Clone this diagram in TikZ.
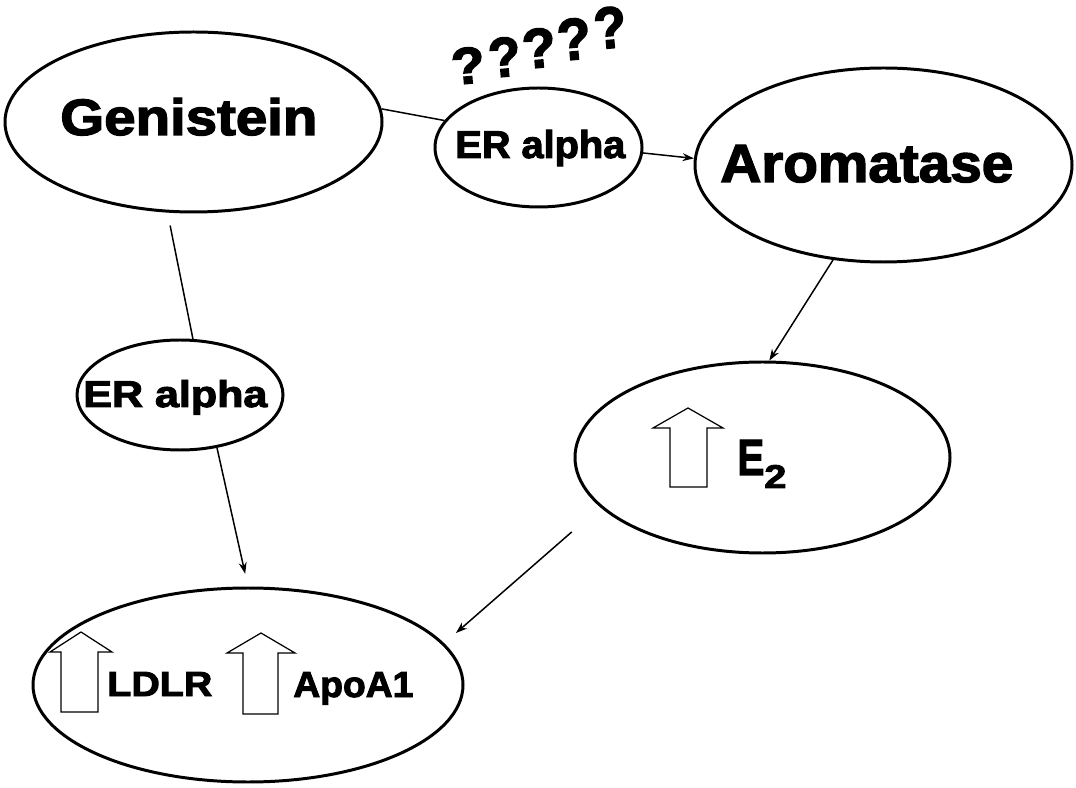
\documentclass[tikz,border=0pt]{standalone}
\usepackage{fontspec}
\setmainfont{Liberation Sans}
\newfontfamily\heavyfont{Liberation Sans}[BoldFeatures={FakeBold=2.6}]
\usepackage{graphicx}
\usetikzlibrary{shapes.geometric,arrows.meta}
% drawing unit: one grid step
\newlength\pxu
\setlength\pxu{0.56906pt}
% bold label squeezed into a given width and cap height
\newcommand\fitlabel[3]{\resizebox{#1\pxu}{#2\pxu}{\heavyfont\bfseries #3}}
% a question mark with its side bearings trimmed
\newcommand\tightq{\kern-0.07em?\kern-0.07em}
\tikzset{
  blob/.style={draw=black, line width=1.7pt, ellipse, inner sep=0pt},
  lbl/.style={inner sep=0pt, anchor=base west},
  qmark/.style={inner sep=0pt, rotate=5},
  link/.style={draw=black, line width=0.85pt},
  goes/.style={link, -{Stealth[length=6.5pt,width=4.5pt]}},
  upblock/.style={draw=black, line width=0.7pt, line join=miter}
}
\begin{document}
\begin{tikzpicture}[x=\pxu, y=-\pxu]
\fill[white] (0,0) rectangle (1076,788);
\useasboundingbox (0,0) rectangle (1076,788);

% ellipses
\node[blob, minimum width=377\pxu, minimum height=180\pxu] (gen)  at (193.5,122) {};
\node[blob, minimum width=207\pxu, minimum height=119\pxu] (era1) at (538.5,147.5) {};
\node[blob, minimum width=377\pxu, minimum height=194\pxu] (arom) at (883.5,165) {};
\node[blob, minimum width=206\pxu, minimum height=110\pxu] (era2) at (180,395) {};
\node[blob, minimum width=375\pxu, minimum height=191\pxu] (e2)   at (762.5,457.5) {};
\node[blob, minimum width=430\pxu, minimum height=194\pxu] (bot)  at (248,685) {};

% labels
\node[lbl] (genlbl)  at (60,135)  {\fitlabel{257}{37}{Genistein}};
\node[lbl] (era1lbl) at (455,158) {\fitlabel{170}{28}{ER alpha}};
\node[lbl] (aromlbl) at (720,182) {\fitlabel{293}{37}{Aromatase}};
\node[lbl] (era2lbl) at (83,407)  {\fitlabel{184}{27}{ER alpha}};
\node[lbl] (e2lbl)   at (737,475) {\fitlabel{27}{35}{E}\raisebox{-13\pxu}{\fitlabel{22}{23}{2}}};
\node[lbl] (ldlrlbl) at (107,696) {\fitlabel{105}{24}{LDLR}};
\node[lbl] (apolbl)  at (293,697) {\fitlabel{120}{25}{ApoA1}};

% question marks rising along an arc
\node[qmark] (q1) at (468,65.5) {\fitlabel{26}{36}{\tightq}};
\node[qmark] (q2) at (504.5,57) {\fitlabel{25}{39}{\tightq}};
\node[qmark] (q3) at (539,48)   {\fitlabel{26}{39}{\tightq}};
\node[qmark] (q4) at (574,39)   {\fitlabel{26}{41}{\tightq}};
\node[qmark] (q5) at (610,27.5) {\fitlabel{25}{41}{\tightq}};

% hollow up arrows
\draw[upblock] (653,428) -- (688,408) -- (723,428) -- (707,428) -- (707,487)
  -- (670,487) -- (670,428) -- cycle;
\draw[upblock] (50,652) -- (81,632) -- (112,652) -- (98,652) -- (98,712)
  -- (61,712) -- (61,652) -- cycle;
\draw[upblock] (227,653) -- (261,633) -- (295,653) -- (278,653) -- (278,714)
  -- (243,714) -- (243,653) -- cycle;

% connectors
\draw[link] (gen.4) -- (era1.164);
\draw[goes] (era1.-3) -- (arom.178);
\draw[goes] (arom.242.5) -- (e2.86.7);
\draw[link, shorten <=7.5pt] (gen.-106.6) -- (era2.77);
\draw[goes, shorten >=7.4pt] (era2.-55) -- (bot.90);
\draw[goes, shorten <=21.4pt, shorten >=8.9pt] (e2.197.7) -- (bot.12.2);
\end{tikzpicture}
\end{document}
